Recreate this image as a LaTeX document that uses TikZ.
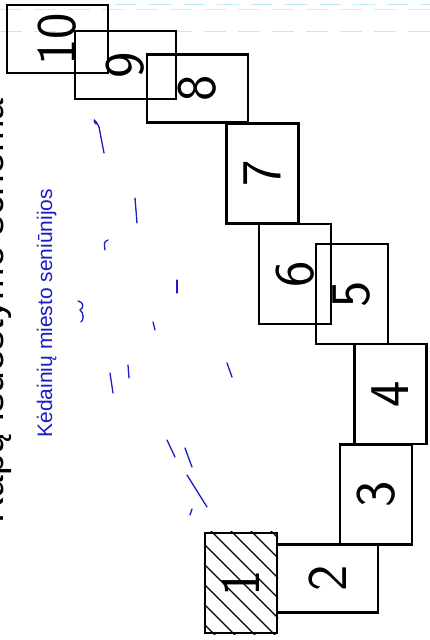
\documentclass[tikz,border=0pt]{standalone}
\usepackage{fontspec}
\usepackage{tikz}
\usetikzlibrary{positioning}
\newfontfamily\headfont{Liberation Sans}
\definecolor{stampblue}{RGB}{28,28,196}

\begin{document}
\begin{tikzpicture}[x=1pt,y=-1pt,
  grave/.style={draw, line width=2.4pt, rotate=90, inner sep=0pt,
    font=\sffamily\fontsize{56}{56}\selectfont},
  graveup/.style={grave, minimum width=100pt, minimum height=72pt},
  graveflat/.style={grave, minimum width=68pt, minimum height=101pt},
  scribble/.style={stampblue, line width=1.3pt, line cap=round},
  scanline/.style={line width=0.8pt, dash pattern=on 22pt off 12pt}]
\useasboundingbox (0,0) rectangle (430,640);

% scanner traces
\draw[scanline, magenta!15] (0,9) -- (430,9);
\draw[scanline, cyan!25] (115,4) -- (430,4);
\draw[scanline, cyan!25] (0,31) -- (430,31);

% headings
\node[rotate=90, anchor=base west, font=\headfont\fontsize{39}{39}\selectfont] (title) at (4,527) {Kapų išdėstymo schema};
\node[rotate=90, anchor=base west, text=stampblue, font=\headfont\fontsize{21}{21}\selectfont] (office) at (52,441) {Kėdainių miesto seniūnijos};

% graves
\node[graveflat] (g10) at (57.5,39) {10};
\node[graveflat] (g9) at (125.5,65) {9};
\node[graveflat] (g8) at (197.5,88.5) {8};
\node[graveup] (g7) at (262.5,173.5) {7};
\node[graveup] (g6) at (295,274) {6};
\node[graveup] (g5) at (352,294) {5};
\node[graveup] (g4) at (390.5,394) {4};
\node[graveup] (g3) at (376,494.5) {3};
\node[graveflat] (g2) at (327.5,578.5) {2};
\node[graveup] (g1) at (241,583) {1};

% hatching of grave 1
\begin{scope}
\clip (g1.south west) rectangle (g1.north east);
\foreach \d in {260,280,...,440}
  \draw[line width=1.2pt] (200,200+\d) -- (282,282+\d);
\end{scope}

% signature
\draw[scribble] (96,124) .. controls (92,119) and (95,118) .. (99,127) -- (104,153);
\draw[scribble] (135,198) -- (137,223);
\draw[scribble] (108,240) .. controls (104,242) .. (105,250);
\draw[scribble] (177,280) -- (177,293);
\draw[scribble] (78,301) .. controls (84,302) and (84,308) .. (80,310) .. controls (84,313) and (84,320) .. (81,322);
\draw[scribble] (153,322) -- (155,330);
\draw[scribble] (110,373) -- (113,393);
\draw[scribble] (128,365) -- (129,378);
\draw[scribble] (227,363) -- (232,377);
\draw[scribble] (167,440) -- (175,457);
\draw[scribble] (185,448) -- (192,467);
\draw[scribble] (187,475) -- (207,507);
\draw[scribble] (192,509) -- (190,515);
\end{tikzpicture}
\end{document}
